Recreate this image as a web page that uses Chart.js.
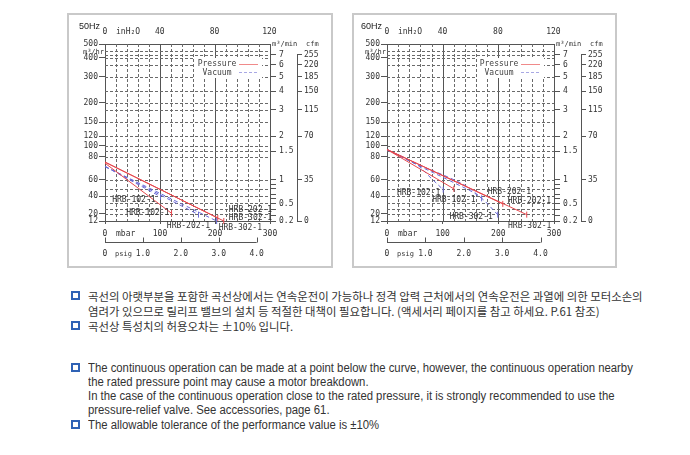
<!DOCTYPE html>
<html><head><meta charset="utf-8">
<script src="https://cdn.jsdelivr.net/npm/chart.js@4.4.0/dist/chart.umd.min.js"></script>
<style>
html,body{margin:0;padding:0;background:#fff;}
body{width:690px;height:455px;position:relative;overflow:hidden;}
.panel{position:absolute;top:13px;height:251px;border:2px solid #c9c9c9;background:#fff;}
.panel canvas{display:block;}
.line{position:absolute;left:88px;white-space:nowrap;color:#333;transform-origin:0 50%;}
.ko{font-family:"Noto Sans CJK KR";font-size:11.4px;line-height:14px;}
.en{font-family:"Liberation Sans",sans-serif;font-size:12px;line-height:14px;transform:scaleX(0.943);}
.bul{position:absolute;left:71px;width:5px;height:5px;border:2px solid #2f62b5;background:#fff;}
</style></head><body>
<div class="panel" style="left:67px;width:262px"><canvas id="c50" width="262" height="251"></canvas></div>
<div class="panel" style="left:352px;width:261px"><canvas id="c60" width="261" height="251"></canvas></div>

<div class="bul" style="top:291px"></div>
<div class="line ko" style="top:289px">곡선의 아랫부분을 포함한 곡선상에서는 연속운전이 가능하나 정격 압력 근처에서의 연속운전은 과열에 의한 모터소손의</div>
<div class="line ko" style="top:304px">염려가 있으므로 릴리프 밸브의 설치 등 적절한 대책이 필요합니다. (액세서리 페이지를 참고 하세요. P.61 참조)</div>
<div class="bul" style="top:321px"></div>
<div class="line ko" style="top:319px">곡선상 특성치의 허용오차는 ±10% 입니다.</div>

<div class="bul" style="top:363px"></div>
<div class="line en" style="top:361px">The continuous operation can be made at a point below the curve, however, the continuous operation nearby</div>
<div class="line en" style="top:375px">the rated pressure point may cause a motor breakdown.</div>
<div class="line en" style="top:389px">In the case of the continuous operation close to the rated pressure, it is strongly recommended to use the</div>
<div class="line en" style="top:403px">pressure-relief valve. See accessories, page 61.</div>
<div class="bul" style="top:420px"></div>
<div class="line en" style="top:418px">The allowable tolerance of the performance value is ±10%</div>

<script>
// ---------- axis tick values ----------
const mbarTicks  = [0, 100, 200, 300];
const inH2OTicks = [0, 40, 80, 120];
const psigTicks  = [0, 1, 2, 3, 4];
const m3hrTicks  = [500, 400, 300, 200, 150, 120, 100, 80, 60, 40, 20, 12];
const m3minTicks = [7, 6, 5, 4, 3, 2, 1.5, 1, 0.5, 0.2];
const m3minMinor = [0.9, 0.8, 0.7, 0.6, 0.4, 0.3];
const cfmTicks   = [255, 220, 185, 150, 115, 70, 35, 0];
const cfmAtM3min = [7, 6, 5, 4, 3, 2, 1, 0.2];
const flowGrid   = [450, 420, 400, 360, 300, 240, 200, 180, 150, 120, 100, 90, 80, 60, 48, 40, 30, 24, 20];

// ---------- curves: [mbar, m3/hr] ----------
// 50 Hz
const p50_102 = [[0, 74], [121, 20.5]];
const p50_202 = [[0, 75], [205, 15]];
const p50_302 = [[0, 75], [216, 12]];
const v50_102 = [[0, 71], [101, 39]];
const v50_202 = [[0, 71], [170, 19]];
const v50_302 = [[0, 71], [203, 12]];
// 60 Hz
const p60_102 = [[0, 93], [120, 48]];
const p60_202 = [[0, 93], [208, 29.5]];
const p60_302 = [[0, 93], [251, 19]];
const v60_102 = [[0, 92], [50, 74], [80, 61], [101, 47]];
const v60_202 = [[0, 93], [47, 74.5], [108, 62.5], [144, 50.6], [170, 36.6]];
const v60_302 = [[0, 93], [60, 71], [120, 56], [165, 40], [199, 19]];

// ---------- unit conversions ----------
const MBAR_PER_INH2O = 2.49089, MBAR_PER_PSI = 68.9476, M3HR_PER_M3MIN = 60;

// ---------- custom flow scale (graph paper spacing) ----------
const flowAxisSpacing = [0, 0.079, 0.186, 0.333, 0.441, 0.520, 0.576, 0.638, 0.768, 0.859, 0.960, 1];
class FlowScale extends Chart.LinearScale {
  determineDataLimits() {
    const v = this.options.anchorValues;
    this.min = Math.min(...v); this.max = Math.max(...v);
  }
  buildTicks() { return this.options.tickValues.map(value => ({ value })); }
  _frac(value) {
    const vs = this.options.anchorValues, fs = this.options.anchorFractions;
    let i = 0;
    while (i < vs.length - 2 && value < vs[i + 1]) i++;
    const l0 = Math.log10(vs[i]), l1 = Math.log10(vs[i + 1]);
    const t = (Math.log10(value) - l0) / (l1 - l0);
    return 1 - (fs[i] + t * (fs[i + 1] - fs[i]));
  }
  getPixelForValue(value) {
    if (value === null || value === undefined || isNaN(value) || value <= 0) return NaN;
    return this.getPixelForDecimal(this._frac(value));
  }
  getValueForPixel(pixel) {
    const vs = this.options.anchorValues, fs = this.options.anchorFractions;
    const ft = 1 - this.getDecimalForPixel(pixel);
    let i = 0;
    while (i < fs.length - 2 && ft > fs[i + 1]) i++;
    const t = (ft - fs[i]) / (fs[i + 1] - fs[i]);
    const l0 = Math.log10(vs[i]), l1 = Math.log10(vs[i + 1]);
    return Math.pow(10, l0 + t * (l1 - l0));
  }
}
FlowScale.id = 'flow';
FlowScale.defaults = Chart.LinearScale.defaults;
Chart.register(FlowScale);

const RED = '#e6474d', BLUE = '#6a6ad6';
const AX = '#555';
const MONO = 'DejaVu Sans Mono';
const tickFont = { family: MONO, size: 8 };

function curve(data, kind, tag, tagPos) {
  const col = kind === 'p' ? RED : BLUE;
  return {
    data, tag, tagPos,
    borderColor: col, borderWidth: 1,
    borderDash: kind === 'p' ? [] : [4, 3],
    fill: false, tension: 0.35,
    pointStyle: 'line', rotation: 90,
    pointRadius: ctx => ctx.dataIndex === data.length - 1 ? 3 : 0,
    pointBorderColor: col, pointBorderWidth: 1, pointBackgroundColor: col
  };
}

const decor = {
  id: 'decor',
  beforeDatasetsDraw(chart) {
    const { ctx, chartArea: a, scales: { x, y } } = chart;
    ctx.save();
    ctx.lineWidth = 1;
    for (let m = 20; m < 300; m += 20) {
      const px = Math.round(x.getPixelForValue(m)) + 0.5;
      ctx.strokeStyle = m % 100 === 0 ? '#555' : '#6a6a6a';
      ctx.setLineDash(m % 100 === 0 ? [] : [3, 2]);
      ctx.beginPath(); ctx.moveTo(px, a.top); ctx.lineTo(px, a.bottom); ctx.stroke();
    }
    ctx.setLineDash([3, 2]);
    ctx.strokeStyle = '#6a6a6a';
    for (const v of flowGrid) {
      const py = Math.round(y.getPixelForValue(v)) + 0.5;
      ctx.beginPath(); ctx.moveTo(a.left, py); ctx.lineTo(a.right, py); ctx.stroke();
    }
    ctx.setLineDash([]);
    // legend background
    ctx.fillStyle = '#fff';
    ctx.fillRect(a.left + 90, a.top + 14, 67, 20);
    ctx.restore();
  },
  afterDraw(chart, args, o) {
    const { ctx, chartArea: a, scales: { x, y, x3, y3 } } = chart;
    ctx.save();
    ctx.strokeStyle = AX; ctx.lineWidth = 1;
    // psig axis
    const py = Math.round(x3.top) + 0.5;
    ctx.beginPath();
    ctx.moveTo(x3.getPixelForValue(psigTicks[0]), py);
    ctx.lineTo(x3.getPixelForValue(psigTicks[psigTicks.length - 1]), py);
    for (const t of psigTicks) {
      const px = Math.round(x3.getPixelForValue(t)) + 0.5;
      ctx.moveTo(px, py); ctx.lineTo(px, py - 5);
    }
    ctx.stroke();
    // cfm axis line
    const cx = Math.round(y3.left) + 0.5;
    ctx.beginPath();
    ctx.moveTo(cx, y.getPixelForValue(cfmAtM3min[0] * M3HR_PER_M3MIN));
    ctx.lineTo(cx, y.getPixelForValue(cfmAtM3min[cfmAtM3min.length - 1] * M3HR_PER_M3MIN));
    ctx.stroke();
    // texts
    ctx.fillStyle = '#333';
    ctx.font = '8px "' + MONO + '"';
    ctx.textBaseline = 'middle';
    ctx.textAlign = 'left';
    ctx.fillText('inH₂O', a.left + 11, a.top - 12);
    ctx.fillText('mbar', a.left + 11, x.top + 13);
    ctx.font = '7px "' + MONO + '"';
    ctx.fillText('psig', a.left + 10, x3.top + 12);
    ctx.fillText('m³/min', a.right + 2, a.top);
    ctx.fillText('cfm', y3.left + 9, a.top);
    ctx.textAlign = 'right';
    ctx.fillText('m³/hr', a.left - 1, a.top + 8);
    // title
    ctx.textAlign = 'left';
    ctx.font = '9px "Liberation Sans"';
    ctx.fillStyle = '#222';
    ctx.fillText(o.title, a.left - 26, a.top - 17);
    // legend
    ctx.font = '8px "' + MONO + '"';
    ctx.fillStyle = '#444';
    ctx.textAlign = 'center';
    ctx.fillText('Pressure', a.left + 112, a.top + 19.5);
    ctx.fillText('Vacuum', a.left + 112, a.top + 28.5);
    ctx.lineWidth = 1;
    ctx.strokeStyle = '#f08a8a';
    ctx.beginPath(); ctx.moveTo(a.left + 134, a.top + 20.5); ctx.lineTo(a.left + 153, a.top + 20.5); ctx.stroke();
    ctx.strokeStyle = '#a8a8e4'; ctx.setLineDash([3, 2]);
    ctx.beginPath(); ctx.moveTo(a.left + 134, a.top + 28.5); ctx.lineTo(a.left + 153, a.top + 28.5); ctx.stroke();
    ctx.setLineDash([]);
    // curve tags
    ctx.fillStyle = '#333';
    chart.data.datasets.forEach((ds, i) => {
      const pts = chart.getDatasetMeta(i).data;
      const end = pts[pts.length - 1];
      const tp = ds.tagPos;
      ctx.textAlign = tp.align;
      ctx.fillText(ds.tag, end.x + tp.dx, end.y + tp.dy);
    });
    ctx.restore();
  }
};

function makeChart(id, title, leftW, sets) {
  return new Chart(document.getElementById(id), {
    type: 'line',
    data: { datasets: sets },
    plugins: [decor],
    options: {
      responsive: false, animation: false, parsing: true,
      layout: { padding: 0 },
      plugins: { legend: { display: false }, tooltip: { enabled: false }, decor: { title } },
      scales: {
        x: {
          type: 'linear', position: 'bottom', min: 0, max: 300,
          afterBuildTicks: s => { s.ticks = mbarTicks.map(v => ({ value: v })); },
          afterFit: s => { s.height = 21; },
          ticks: { font: tickFont, color: '#333', padding: 5, autoSkip: false, maxRotation: 0, callback: v => String(v) },
          grid: { drawOnChartArea: false, tickLength: 3, color: AX },
          border: { color: AX }
        },
        x3: {
          type: 'linear', position: 'bottom', min: 0, max: 300 / MBAR_PER_PSI,
          afterBuildTicks: s => { s.ticks = psigTicks.map(v => ({ value: v })); },
          afterFit: s => { s.height = 24; },
          ticks: { font: tickFont, color: '#333', padding: 7, autoSkip: false, maxRotation: 0, callback: v => v === 0 ? '0' : v.toFixed(1) },
          grid: { drawOnChartArea: false, drawTicks: false },
          border: { display: false }
        },
        x2: {
          type: 'linear', position: 'top', min: 0, max: 300 / MBAR_PER_INH2O,
          afterBuildTicks: s => { s.ticks = inH2OTicks.map(v => ({ value: v })); },
          afterFit: s => { s.height = 29; },
          ticks: { font: tickFont, color: '#333', padding: 7, autoSkip: false, maxRotation: 0, callback: v => String(v) },
          grid: { drawOnChartArea: false, drawTicks: false },
          border: { color: AX }
        },
        y: {
          type: 'flow', position: 'left',
          anchorValues: m3hrTicks, anchorFractions: flowAxisSpacing, tickValues: m3hrTicks,
          afterFit: s => { s.width = leftW; },
          ticks: { font: tickFont, color: '#333', padding: 1, autoSkip: false, callback: v => String(v) },
          grid: { drawOnChartArea: false, tickLength: 6, color: AX },
          border: { color: AX }
        },
        y2: {
          type: 'flow', position: 'right', weight: 0,
          anchorValues: m3hrTicks, anchorFractions: flowAxisSpacing,
          tickValues: m3minTicks.concat(m3minMinor).map(v => v * M3HR_PER_M3MIN),
          afterFit: s => { s.width = 27; },
          ticks: {
            font: tickFont, color: '#333', padding: 3, autoSkip: false,
            callback: v => { const m = +(v / M3HR_PER_M3MIN).toFixed(2); return m3minTicks.includes(m) ? String(m) : ''; }
          },
          grid: { drawOnChartArea: false, tickLength: 6, color: AX },
          border: { color: AX }
        },
        y3: {
          type: 'flow', position: 'right', weight: 1,
          anchorValues: m3hrTicks, anchorFractions: flowAxisSpacing,
          tickValues: cfmAtM3min.map(v => v * M3HR_PER_M3MIN),
          afterFit: s => { s.width = 34; },
          ticks: {
            font: tickFont, color: '#333', padding: 2, autoSkip: false,
            callback: (v, i) => String(cfmTicks[i])
          },
          grid: { drawOnChartArea: false, tickLength: 5, color: AX },
          border: { display: false }
        }
      }
    }
  });
}

makeChart('c50', '50Hz', 36, [
  curve(p50_102, 'p', 'HRB-102-1', { align: 'right', dx: -2, dy: 0 }),
  curve(p50_202, 'p', 'HRB-202-1', { align: 'left', dx: 11, dy: -8 }),
  curve(p50_302, 'p', 'HRB-302-1', { align: 'left', dx: 5, dy: -3 }),
  curve(v50_102, 'v', 'HRB-102-1', { align: 'right', dx: -5, dy: 3 }),
  curve(v50_202, 'v', 'HRB-202-1', { align: 'center', dx: -10, dy: 11 }),
  curve(v50_302, 'v', 'HRB-302-1', { align: 'left', dx: 2, dy: 7 })
]);
makeChart('c60', '60Hz', 33, [
  curve(p60_102, 'p', 'HRB-102-1', { align: 'center', dx: 0, dy: 11 }),
  curve(p60_202, 'p', 'HRB-202-1', { align: 'left', dx: 5, dy: -3 }),
  curve(p60_302, 'p', 'HRB-302-1', { align: 'center', dx: 3, dy: 11 }),
  curve(v60_102, 'v', 'HRB-102-1', { align: 'right', dx: -3, dy: 3 }),
  curve(v60_202, 'v', 'HRB-202-1', { align: 'left', dx: 6, dy: -6 }),
  curve(v60_302, 'v', 'HRB-302-1', { align: 'right', dx: -5, dy: 2 })
]);
</script>
</body></html>
